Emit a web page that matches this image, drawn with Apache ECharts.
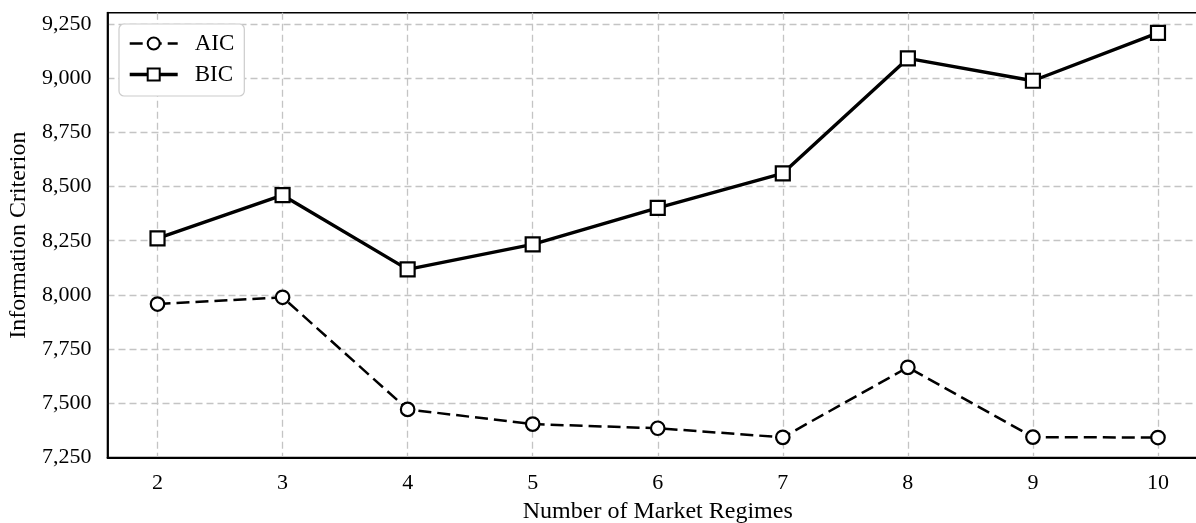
<!DOCTYPE html>
<html>
<head>
<meta charset="utf-8">
<script src="https://cdn.jsdelivr.net/npm/echarts@6/dist/echarts.min.js"></script>
<style>html,body{margin:0;padding:0;background:#fff}#c{width:1196px;height:523px}</style>
</head>
<body>
<div id="c"></div>
<script>
const regimes = [2, 3, 4, 5, 6, 7, 8, 9, 10];
const aic = [7958, 7989, 7472, 7404, 7385, 7343, 7666, 7344, 7342];
const bic = [8261, 8460, 8118, 8233, 8402, 8561, 9091, 8988, 9209];
const yTicks = [7250, 7500, 7750, 8000, 8250, 8500, 8750, 9000, 9250];

const FONT = '"Liberation Serif", "DejaVu Serif", serif';
const chart = echarts.init(document.getElementById('c'), null, {renderer: 'canvas'});
const gridLine = {show: true, lineStyle: {color: '#c4c4c4', width: 1.3, type: [7, 4]}};

chart.setOption({
  animation: false,
  backgroundColor: '#fff',
  grid: {left: 107.5, top: 12.7, width: 1100.5, height: 444.8, show: true,
         outerBoundsMode: 'none', containLabel: false,
         borderColor: '#000', borderWidth: 1.6, backgroundColor: 'transparent'},
  legend: {
    orient: 'vertical', left: 119, top: 24,
    padding: [8, 10, 10, 9], itemGap: 8, itemWidth: 48, itemHeight: 15,
    backgroundColor: '#fff', borderColor: '#cccccc', borderWidth: 1.2, borderRadius: 5,
    textStyle: {fontFamily: FONT, fontSize: 23, color: '#000', padding: [0, 0, 0, 12]},
    data: [
      {name: 'AIC', lineStyle: {width: 2.5}},
      {name: 'BIC', lineStyle: {width: 3.4}}
    ]
  },
  xAxis: {
    type: 'value', min: 1.6, max: 10.4,
    name: 'Number of Market Regimes', nameLocation: 'middle', nameGap: 42,
    nameTextStyle: {fontFamily: FONT, fontSize: 24, color: '#000'},
    axisLine: {show: true, lineStyle: {color: '#000', width: 1.8}},
    axisTick: {show: false, customValues: regimes},
    axisLabel: {customValues: regimes, fontFamily: FONT, fontSize: 22, color: '#000', margin: 15},
    splitLine: gridLine
  },
  yAxis: {
    type: 'value', min: 7250, max: 9302,
    name: 'Information Criterion', nameLocation: 'middle', nameGap: 77, nameRotate: 90,
    nameTextStyle: {fontFamily: FONT, fontSize: 24, color: '#000'},
    axisLine: {show: true, lineStyle: {color: '#000', width: 1.8}},
    axisTick: {show: false, customValues: yTicks},
    axisLabel: {customValues: yTicks, fontFamily: FONT, fontSize: 22, color: '#000', margin: 16,
                formatter: v => Number(v).toLocaleString('en-US')},
    splitLine: gridLine
  },
  series: [
    {
      name: 'AIC', type: 'line',
      data: regimes.map((x, i) => [x, aic[i]]),
      symbol: 'circle', symbolSize: 13.5,
      lineStyle: {color: '#000', width: 2.5, type: [13, 6]},
      itemStyle: {color: '#fff', borderColor: '#000', borderWidth: 2.2}
    },
    {
      name: 'BIC', type: 'line',
      data: regimes.map((x, i) => [x, bic[i]]),
      symbol: 'rect', symbolSize: 14,
      lineStyle: {color: '#000', width: 3.4},
      itemStyle: {color: '#fff', borderColor: '#000', borderWidth: 2.2}
    }
  ]
});
</script>
</body>
</html>
